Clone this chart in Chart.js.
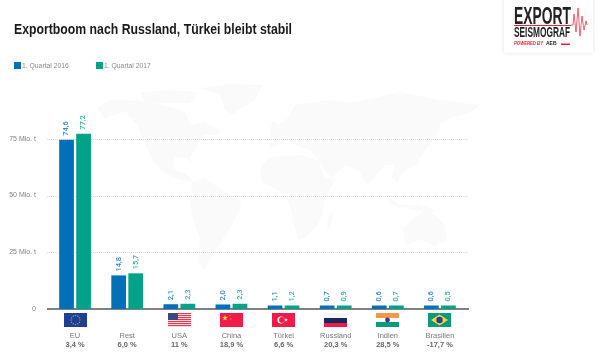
<!DOCTYPE html>
<html lang="de">
<head>
<meta charset="utf-8">
<title>Exportboom nach Russland</title>
<script src="https://cdn.jsdelivr.net/npm/chart.js@4"></script>
<style>
    html, body { margin: 0; padding: 0; background: #fff; }
    canvas { display: block; }
</style>
</head>
<body>
<canvas id="exportChart" width="600" height="359"></canvas>
<script>
const chartTitle = 'Exportboom nach Russland, Türkei bleibt stabil';
const categories = ['EU', 'Rest', 'USA', 'China', 'Türkei', 'Russland', 'Indien', 'Brasilien'];
const changes = ['3,4 %', '6,0 %', '11 %', '18,9 %', '6,6 %', '20,3 %', '28,5 %', '-17,7 %'];
const q1_2016 = [74.6, 14.8, 2.1, 2.0, 1.1, 0.7, 0.6, 0.6];
const q1_2017 = [77.2, 15.7, 2.3, 2.3, 1.2, 0.9, 0.7, 0.5];
const seriesLabels = ['1. Quartal 2016', '1. Quartal 2017'];
const yTicks = [0, 25, 50, 75];

const BLUE = '#0070b8';
const GREEN = '#00a388';
const FONT = '"Liberation Sans", sans-serif';

// Rough outlines of the world map in the background
const mapShapes = [
    [[97,108],[110,100],[125,100],[155,103],[175,108],[185,112],[190,125],[205,122],[220,130],[218,135],[205,135],[200,140],[195,150],[190,157],[192,166],[187,158],[175,157],[173,165],[178,172],[185,173],[195,183],[185,181],[175,178],[160,170],[150,155],[143,140],[138,125],[125,112],[105,118]],
    [[140,92],[170,90],[197,92],[190,103],[165,103],[145,102]],
    [[200,88],[230,84],[263,85],[255,100],[232,115],[225,110],[220,95]],
    [[192,182],[205,178],[222,190],[240,200],[241,207],[232,225],[222,240],[212,255],[205,270],[198,262],[200,240],[192,215],[190,200]],
    [[262,165],[270,157],[300,155],[318,160],[325,178],[337,178],[325,197],[322,215],[318,225],[305,238],[298,240],[294,225],[290,205],[285,195],[275,188],[262,183],[260,172]],
    [[329,213],[334,211],[330,228],[327,227]],
    [[270,135],[277,125],[288,118],[295,105],[310,103],[330,100],[350,103],[400,92],[440,100],[480,105],[470,113],[450,118],[440,125],[437,135],[425,150],[415,165],[400,175],[398,183],[392,178],[395,165],[385,165],[368,185],[358,170],[345,165],[332,178],[325,172],[317,158],[310,150],[295,145],[285,140],[270,150]],
    [[403,228],[422,212],[430,210],[445,225],[447,240],[435,246],[420,240],[405,245]],
    [[385,195],[400,205],[420,205],[440,212],[415,210],[390,205]],
    [[432,135],[437,128],[430,148]],
    [[272,122],[277,122],[276,132],[270,132]]
];

function star(ctx, cx, cy, r, color) {
    ctx.fillStyle = color;
    ctx.beginPath();
    for (let i = 0; i < 10; i++) {
        const a = -Math.PI / 2 + i * Math.PI / 5;
        const d = i % 2 ? r * 0.4 : r;
        ctx.lineTo(cx + Math.cos(a) * d, cy + Math.sin(a) * d);
    }
    ctx.fill();
}

// Draw text squeezed to a given width
function fitText(ctx, text, x, y, width) {
    const w = ctx.measureText(text).width;
    ctx.save();
    ctx.translate(x, y);
    ctx.scale(width / w, 1);
    ctx.fillText(text, 0, 0);
    ctx.restore();
}

// Flags, each drawn into a 23x14 box
const flags = {
    EU(ctx) {
        ctx.fillStyle = '#1f3f95';
        ctx.fillRect(0, 0, 23, 14);
        for (let i = 0; i < 12; i++) {
            const a = i * Math.PI / 6;
            star(ctx, 11.5 + Math.cos(a) * 4.5, 7 + Math.sin(a) * 4.5, 1, '#e3b23c');
        }
    },
    Rest() {},
    USA(ctx) {
        for (let i = 0; i < 7; i++) {
            ctx.fillStyle = '#e8384f';
            ctx.fillRect(0, i * 2, 23, 1);
            ctx.fillStyle = '#f7d9dc';
            ctx.fillRect(0, i * 2 + 1, 23, 1);
        }
        ctx.fillStyle = '#3a4a80';
        ctx.fillRect(0, 0, 10, 7);
    },
    China(ctx) {
        ctx.fillStyle = '#ee1c47';
        ctx.fillRect(0, 0, 23, 14);
        star(ctx, 5, 5, 3, '#f7d54a');
        star(ctx, 10, 2.5, 1, '#f7d54a');
        star(ctx, 11, 6, 1, '#f7d54a');
    },
    'Türkei'(ctx) {
        ctx.fillStyle = '#ee1c47';
        ctx.fillRect(0, 0, 23, 14);
        ctx.fillStyle = '#fff';
        ctx.beginPath();
        ctx.arc(9, 7, 3.6, 0, Math.PI * 2);
        ctx.fill();
        ctx.fillStyle = '#ee1c47';
        ctx.beginPath();
        ctx.arc(10, 7, 2.9, 0, Math.PI * 2);
        ctx.fill();
        star(ctx, 14, 7, 2, '#fff');
    },
    Russland(ctx) {
        ctx.fillStyle = '#f5f5f5';
        ctx.fillRect(0, 0, 23, 5);
        ctx.fillStyle = '#16295f';
        ctx.fillRect(0, 5, 23, 5);
        ctx.fillStyle = '#ee1c47';
        ctx.fillRect(0, 10, 23, 4);
    },
    Indien(ctx) {
        ctx.fillStyle = '#f7974a';
        ctx.fillRect(0, 0, 23, 5);
        ctx.fillStyle = '#fff';
        ctx.fillRect(0, 5, 23, 4);
        ctx.fillStyle = '#0a9a7c';
        ctx.fillRect(0, 9, 23, 5);
        ctx.fillStyle = '#2f3f8f';
        ctx.beginPath();
        ctx.arc(11.5, 7, 2.4, 0, Math.PI * 2);
        ctx.fill();
    },
    Brasilien(ctx) {
        ctx.fillStyle = '#0a9a7c';
        ctx.fillRect(0, 0, 23, 14);
        ctx.fillStyle = '#f5d33c';
        ctx.beginPath();
        ctx.moveTo(3, 7);
        ctx.lineTo(11.5, 1.5);
        ctx.lineTo(20, 7);
        ctx.lineTo(11.5, 12.5);
        ctx.fill();
        ctx.fillStyle = '#2f3f8f';
        ctx.beginPath();
        ctx.arc(11.5, 7, 3.2, 0, Math.PI * 2);
        ctx.fill();
    }
};

// Map, dotted grid lines and baseline go under the bars
const backdropPlugin = {
    id: 'backdrop',
    beforeDatasetsDraw(chart) {
        const { ctx, scales: { y } } = chart;
        ctx.save();
        ctx.fillStyle = '#fafafa';
        mapShapes.forEach(shape => {
            ctx.beginPath();
            shape.forEach(p => ctx.lineTo(p[0], p[1]));
            ctx.fill();
        });
        y.ticks.forEach(tick => {
            const py = Math.round(y.getPixelForValue(tick.value));
            if (tick.value === 0) {
                ctx.fillStyle = '#808080';
                ctx.fillRect(47, py - 1, 422, 2);
            } else {
                ctx.strokeStyle = '#d8d8d8';
                ctx.setLineDash([1, 1]);
                ctx.beginPath();
                ctx.moveTo(47, py + 0.5);
                ctx.lineTo(469, py + 0.5);
                ctx.stroke();
            }
        });
        ctx.restore();
    }
};

// Title, rotated value labels, flags, percent changes, legend and logo
const decorPlugin = {
    id: 'decor',
    afterDatasetsDraw(chart) {
        const { ctx, scales: { x } } = chart;
        ctx.save();

        ctx.fillStyle = '#1a1a1a';
        ctx.font = 'bold 14px ' + FONT;
        ctx.textAlign = 'left';
        ctx.textBaseline = 'alphabetic';
        fitText(ctx, chartTitle, 14, 34, 278);

        const labelColors = ['#2f88c8', '#30b497'];
        chart.data.datasets.forEach((ds, i) => {
            chart.getDatasetMeta(i).data.forEach((bar, j) => {
                ctx.save();
                ctx.translate(bar.x, bar.y - 4);
                ctx.rotate(-Math.PI / 2);
                ctx.fillStyle = labelColors[i];
                ctx.font = '500 7.5px Roboto, sans-serif';
                ctx.textAlign = 'left';
                ctx.textBaseline = 'middle';
                ctx.fillText(ds.data[j].toFixed(1).replace('.', ','), 0, 0);
                ctx.restore();
            });
        });

        categories.forEach((name, i) => {
            const cx = x.getPixelForValue(i);
            ctx.save();
            ctx.translate(Math.round(cx - 11.5), 313);
            flags[name](ctx);
            ctx.restore();
            ctx.fillStyle = '#666';
            ctx.font = 'bold 7.5px ' + FONT;
            ctx.textAlign = 'center';
            ctx.textBaseline = 'middle';
            ctx.fillText(changes[i], cx, 344.5);
        });

        // legend
        [[14, BLUE], [96, GREEN]].forEach((item, i) => {
            ctx.fillStyle = item[1];
            ctx.fillRect(item[0], 62, 7, 7);
            ctx.fillStyle = '#8a8a8a';
            ctx.font = '6.8px ' + FONT;
            ctx.textAlign = 'left';
            ctx.textBaseline = 'middle';
            ctx.fillText(seriesLabels[i], item[0] + 8, 66.5);
        });

        drawLogo(ctx);
        ctx.restore();
    }
};

function drawLogo(ctx) {
    ctx.save();
    ctx.shadowColor = 'rgba(0,0,0,0.12)';
    ctx.shadowBlur = 4;
    ctx.fillStyle = '#fff';
    ctx.fillRect(504, -5, 89, 58);
    ctx.restore();

    ctx.textAlign = 'left';
    ctx.textBaseline = 'alphabetic';
    ctx.fillStyle = '#222';
    ctx.font = 'bold 23px ' + FONT;
    fitText(ctx, 'EXPORT', 514, 24, 57);
    ctx.font = 'bold 14px ' + FONT;
    fitText(ctx, 'SEISMOGRAF', 514, 37, 56);
    ctx.fillStyle = '#e8203a';
    ctx.fillRect(514, 25, 57, 1);
    ctx.font = 'italic bold 4.5px ' + FONT;
    fitText(ctx, 'POWERED BY', 514, 45, 29);
    ctx.fillStyle = '#222';
    ctx.font = 'bold 5px ' + FONT;
    ctx.fillText('AEB', 546, 45);
    ctx.fillStyle = '#e8203a';
    ctx.fillRect(561, 43.5, 9, 1.5);
    ctx.strokeStyle = '#e8203a';
    ctx.lineWidth = 0.7;
    ctx.beginPath();
    [[571,25],[573,25],[574,14],[576,32],[578,8],[580,36],[582,16],[584,30],[586,21],[587,25]].forEach(p => ctx.lineTo(p[0], p[1]));
    ctx.stroke();
}

new Chart(document.getElementById('exportChart'), {
    type: 'bar',
    data: {
        labels: categories,
        datasets: [
            { label: seriesLabels[0], data: q1_2016, backgroundColor: BLUE },
            { label: seriesLabels[1], data: q1_2017, backgroundColor: GREEN }
        ]
    },
    options: {
        responsive: false,
        animation: false,
        layout: { padding: { left: 0, right: 134, top: 82, bottom: 0 } },
        datasets: {
            bar: { categoryPercentage: 0.654, barPercentage: 0.865, minBarLength: 3.5 }
        },
        plugins: {
            legend: { display: false },
            tooltip: { enabled: false }
        },
        scales: {
            x: {
                afterFit(scale) { scale.height = 50; },
                grid: { display: false },
                border: { display: false },
                ticks: {
                    color: '#777',
                    font: { family: FONT, size: 7.5 },
                    padding: 14,
                    maxRotation: 0,
                    autoSkip: false
                }
            },
            y: {
                min: 0,
                max: 100,
                afterFit(scale) { scale.width = 49; },
                afterBuildTicks(scale) { scale.ticks = yTicks.map(v => ({ value: v })); },
                grid: { display: false },
                border: { display: false },
                ticks: {
                    color: '#808080',
                    font: { family: FONT, size: 7 },
                    padding: 5,
                    callback: v => v === 0 ? '0' : v + ' Mio. t'
                }
            }
        }
    },
    plugins: [backdropPlugin, decorPlugin]
});
</script>
</body>
</html>
